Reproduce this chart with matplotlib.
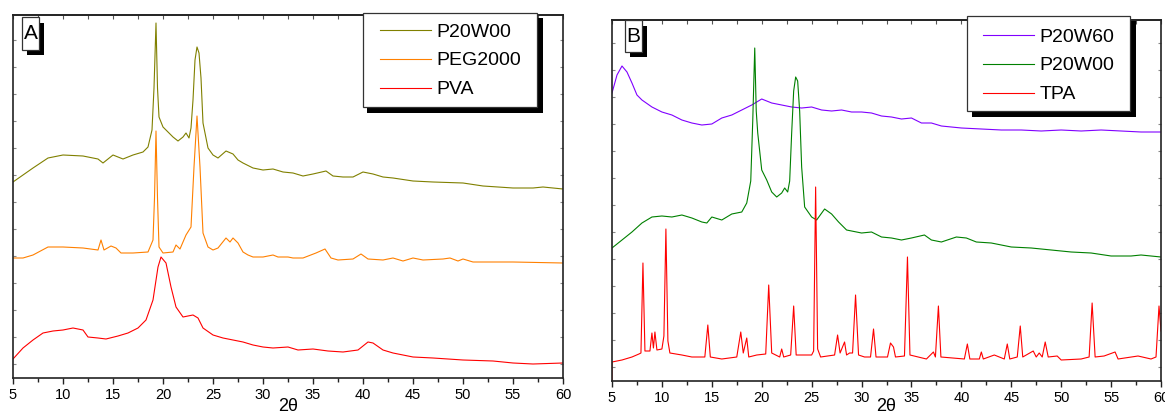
import matplotlib
matplotlib.use("Agg")
import matplotlib.pyplot as plt
import numpy as np
from matplotlib.patches import Rectangle
from matplotlib.ticker import MultipleLocator

plt.rcParams["font.family"] = ["Liberation Sans", "DejaVu Sans"]

# ---- panel A (intensity in arbitrary units) ----
a_p20w00_x = [5, 7, 8.5, 10, 12, 13.5, 14, 15, 15.5, 16, 17, 18, 18.5, 18.9, 19.1, 19.3,
              19.45, 19.6, 20, 21, 21.5, 22, 22.3, 22.6, 22.8, 23.0, 23.2, 23.4, 23.6, 23.8,
              24, 24.5, 25, 25.5, 26.3, 27, 27.5, 28, 29, 30, 31, 32, 33, 34, 35, 36.3, 37,
              38, 39, 40, 41, 42, 43, 45, 47, 50, 52, 55, 57, 58, 60]
a_p20w00_y = [196, 210, 220, 223, 222, 219, 215, 223, 221, 219, 223, 226, 231, 248, 290, 355,
              290, 261, 251, 241, 237, 241, 245, 240, 250, 278, 318, 331, 325, 300,
              255, 230, 223, 220, 227, 224, 218, 215, 210, 208, 209, 206, 205, 202, 204, 207, 202,
              201, 201, 206, 204, 201, 200, 197, 196, 195, 192, 190, 190, 191, 189]

a_peg_x = [5, 6, 7, 8.5, 10, 12, 13.5, 13.8, 14.1, 14.8, 15.3, 15.8, 17, 18.5, 19.0, 19.15,
           19.3, 19.45, 19.6, 20, 21, 21.3, 21.7, 22.3, 22.8, 23.1, 23.4, 23.7, 24, 24.5, 25,
           25.5, 26.3, 26.7, 27, 27.5, 28, 28.5, 29, 30, 31, 31.5, 32.5, 33, 34, 35.3, 36.2,
           36.8, 37.5, 39, 39.8, 40.5, 42, 43, 44, 45, 46, 48, 48.7, 49.5, 50, 51, 55, 60]
a_peg_y = [120, 120, 123, 131, 131, 130, 128, 138, 128, 132, 130, 125, 125, 126, 138, 180,
           247, 180, 131, 125, 126, 133, 129, 143, 151, 211, 262, 211, 145, 131, 128,
           130, 140, 136, 140, 135, 126, 123, 121, 121, 123, 121, 121, 120, 120, 125, 129,
           120, 118, 119, 124, 119, 118, 120, 117, 120, 118, 119, 120, 117, 119, 116, 116, 115]

a_pva_x = [5, 6, 7, 8, 9, 10, 11, 12, 12.5, 13.5, 14.3, 15.5, 16.5, 17.5, 18.3, 19, 19.5,
           19.8, 20.3, 20.8, 21.3, 22, 23, 23.5, 24, 25, 26, 27, 28, 29, 30, 31, 32.5, 33.5,
           35, 36.5, 38, 39.5, 40.5, 41, 42, 43, 45, 47, 50, 53, 55, 57, 60]
a_pva_y = [19, 30, 38, 45, 47, 48, 50, 48, 41, 40, 39, 42, 45, 50, 58, 78, 111,
           121, 115, 91, 71, 61, 63, 60, 50, 43, 40, 38, 36, 33, 31, 30, 31, 28,
           29, 27, 26, 28, 36, 35, 28, 25, 21, 20, 18, 17, 15, 14, 15]

# ---- panel B ----
b_p20w60_x = [5, 5.5, 6, 6.5, 7, 7.5, 8, 9, 10, 11, 12, 13, 14, 15, 16, 17, 18, 19, 20, 21,
              22, 23, 24, 25, 26, 27, 28, 29, 30, 31, 32, 33, 34, 35, 36, 37, 38, 39, 40, 42,
              44, 46, 48, 50, 52, 54, 56, 58, 60]
b_p20w60_y = [288, 306, 315, 309, 298, 286, 281, 274, 269, 266, 261, 258, 256, 257, 263, 266,
              271, 276, 282, 278, 276, 274, 273, 274, 271, 270, 271, 269, 269, 268, 265, 264,
              262, 263, 258, 258, 255, 254, 253, 252, 251, 251, 250, 251, 250, 251, 250, 249, 249]

b_p20w00_x = [5, 6, 7, 8, 9, 10, 11, 12, 13, 14, 14.5, 15, 16, 17, 18, 18.5, 18.9, 19.1, 19.3,
              19.45, 19.6, 20, 20.5, 21, 21.5, 22, 22.3, 22.6, 22.8, 23.0, 23.2, 23.4, 23.6,
              23.8, 24, 24.3, 25, 25.5, 26.3, 27, 27.7, 28.5, 30, 31, 32, 33, 34, 35, 36.3, 37,
              38, 39.5, 40.5, 41.5, 43, 45, 47, 49, 51, 53, 55, 57, 58, 60]
b_p20w00_y = [133, 141, 149, 158, 164, 165, 164, 166, 163, 159, 158, 164, 161, 167, 169, 178,
              200, 260, 333, 270, 248, 211, 201, 189, 184, 188, 193, 189, 200, 248, 290, 304,
              300, 270, 214, 174, 164, 161, 172, 167, 159, 151, 148, 149, 144, 143, 141, 143,
              146, 141, 139, 144, 143, 139, 138, 134, 133, 131, 129, 128, 125, 125, 126, 124]

tpa_x = [5.0, 5.0, 6, 7, 7.7, 7.9, 8.1, 8.3, 8.8, 9.0, 9.15, 9.3, 9.5, 10.0, 10.2, 10.4, 10.6,
         10.8, 12, 13, 14.3, 14.6, 14.85, 16, 17.5, 17.9, 18.15, 18.5, 18.7, 19.5, 20.4, 20.7,
         21.0, 21.8, 22.0, 22.2, 22.9, 23.2, 23.45, 25.0, 25.2, 25.4, 25.6, 25.9, 27.3, 27.6,
         27.85, 28.3, 28.5, 28.8, 29.1, 29.4, 29.7, 30.3, 30.9, 31.2, 31.45, 32.6, 32.9, 33.2,
         33.4, 34.3, 34.6, 34.85, 36.5, 37.2, 37.4, 37.7, 37.95, 40.3, 40.6, 40.85, 41.8, 42.0,
         42.2, 43.3, 44.3, 44.6, 44.85, 45.6, 45.9, 46.15, 47.2, 47.5, 47.8, 48.1, 48.4, 48.7,
         49.6, 50, 52, 52.8, 53.1, 53.4, 54.3, 55.4, 55.7, 57.7, 59, 59.5, 59.8, 60]
tpa_y = [0, 19, 21, 24, 27, 28, 118, 30, 30, 48, 33, 49, 31, 32, 45, 152, 40,
         28, 26, 24, 24, 56, 24, 22, 24, 49, 28, 43, 24, 26, 27, 96,
         28, 24, 32, 24, 26, 75, 26, 26, 30, 194, 32, 24, 26, 46,
         28, 39, 26, 28, 28, 86, 26, 24, 24, 52, 24, 24, 38, 34,
         24, 25, 124, 26, 22, 29, 24, 75, 24, 22, 37, 22, 22, 29,
         22, 26, 22, 37, 22, 24, 55, 24, 30, 24, 28, 24, 39, 24,
         25, 21, 22, 24, 78, 24, 25, 29, 22, 25, 22, 24, 75, 50]

W, H = 1165, 415
fig = plt.figure(figsize=(W / 100, H / 100), dpi=100)


def frac(x0, y0, x1, y1):
    # image pixels (origin top-left) -> figure fraction [left, bottom, width, height]
    return [x0 / W, 1 - y1 / H, (x1 - x0) / W, (y1 - y0) / H]


def shadow_box(x0, y0, x1, y1, off):
    fig.add_artist(Rectangle(frac(x0 + off[0], y0 + off[1], x1 + off[2], y1 + off[3])[:2],
                             (x1 + off[2] - x0 - off[0]) / W, (y1 + off[3] - y0 - off[1]) / H,
                             transform=fig.transFigure, facecolor="black", edgecolor="none",
                             zorder=3))
    fig.add_artist(Rectangle(frac(x0, y0, x1, y1)[:2], (x1 - x0) / W, (y1 - y0) / H,
                             transform=fig.transFigure, facecolor="white", edgecolor="#333",
                             linewidth=0.9, zorder=4))


def style(ax, ytop, label_y):
    ax.set_xlim(5, 60)
    ax.set_ylim(0, ytop)
    ax.xaxis.set_major_locator(MultipleLocator(5))
    ax.xaxis.set_minor_locator(MultipleLocator(2.5))
    ax.tick_params(axis="x", which="both", direction="out", top=False,
                   labelsize=10.5, pad=3.5, color="#222")
    ax.tick_params(axis="x", which="major", length=4, width=1)
    ax.tick_params(axis="x", which="minor", length=3, width=1)
    ax.set_yticks(np.arange(14, ytop, 27))
    ax.tick_params(axis="y", direction="in", left=True, right=True, labelleft=False,
                   length=2.5, width=0.8, color="#888")
    top = ax.secondary_xaxis("top")
    top.xaxis.set_major_locator(MultipleLocator(2.5))
    top.tick_params(direction="in", length=3, width=0.8, labeltop=False, color="#555")
    for sp in list(ax.spines.values()) + list(top.spines.values()):
        sp.set_linewidth(1.2)
        sp.set_color("#222")
    ax.set_xlabel("2θ", fontsize=13)
    ax.xaxis.set_label_coords(0.5, label_y)


axA = fig.add_axes(frac(13, 15, 563, 378))
axB = fig.add_axes(frac(612, 20, 1161, 381))

lw = 0.8
axA.plot(a_p20w00_x, a_p20w00_y, color="#808000", lw=lw, label="P20W00")
axA.plot(a_peg_x, a_peg_y, color="#FF8000", lw=lw, label="PEG2000")
axA.plot(a_pva_x, a_pva_y, color="#FF0000", lw=lw, label="PVA")
style(axA, 363, -0.056)

axB.plot(b_p20w60_x, b_p20w60_y, color="#8000FF", lw=lw, label="P20W60")
axB.plot(b_p20w00_x, b_p20w00_y, color="#008000", lw=lw, label="P20W00")
axB.plot(tpa_x, tpa_y, color="#FF0000", lw=lw, label="TPA")
style(axB, 361, -0.048)

# legend frames with drop shadows
shadow_box(363, 13, 537, 107, (4, 5, 6, 6))
shadow_box(967, 16, 1130, 111, (5, 5, 6, 6))
leg_kw = dict(frameon=False, loc="upper left", fontsize=14, borderpad=0,
              handlelength=2.6, handletextpad=0.3, labelspacing=0.58, borderaxespad=0)
h, l = axA.get_legend_handles_labels()
fig.legend(h, l, bbox_to_anchor=(380 / W, 1 - 23 / H), **leg_kw).set_zorder(6)
h, l = axB.get_legend_handles_labels()
fig.legend(h, l, bbox_to_anchor=(983 / W, 1 - 28 / H), **leg_kw).set_zorder(6)

# panel letters in boxes with shadows
for letter, (x0, y0, x1, y1) in (("A", (22, 17, 39, 50)), ("B", (625, 20, 642, 52))):
    shadow_box(x0, y0, x1, y1, (5, 6, 5, 5))
    fig.text((x0 + x1) / 2 / W, 1 - (y0 + y1) / 2 / H, letter, fontsize=15,
             ha="center", va="center", zorder=7)

fig.savefig("out.png", dpi=100)
